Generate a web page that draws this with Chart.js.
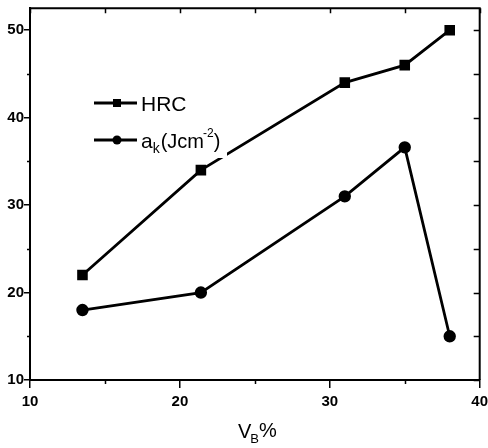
<!DOCTYPE html>
<html>
<head>
<meta charset="utf-8">
<script src="https://cdn.jsdelivr.net/npm/chart.js@4.4.1/dist/chart.umd.min.js"></script>
<style>
  html, body { margin: 0; padding: 0; background: #fff; }
  canvas { display: block; }
</style>
</head>
<body>
<canvas id="chart" width="488" height="448"></canvas>
<script>
// V_B% on x, HRC and impact toughness a_k on y
const vb = [13.5, 21.4, 31, 35, 38];
const hrc = [22, 34, 44, 46, 50];
const ak = [18, 20, 31, 36.6, 15];
const xTicks = [10, 20, 30, 40];
const yTicks = [10, 20, 30, 40, 50];
const xMinor = [15, 25, 35];
const yMinor = [15, 25, 35, 45];

const FONT = '"Liberation Sans", Arial, sans-serif';
const TICKFONT = '"Liberation Sans Narrow", "Liberation Sans", Arial, sans-serif';

const toPts = ys => ys.map((y, i) => ({x: vb[i], y}));

// extra tick marks (minor, top, right) like the original plot frame
const frameTicks = {
  id: 'frameTicks',
  afterDraw(chart) {
    const {ctx, chartArea: a, scales: {x, y}} = chart;
    ctx.save();
    ctx.strokeStyle = '#000';
    ctx.lineWidth = 1.5;
    ctx.beginPath();
    xTicks.concat(xMinor).forEach(v => {
      const px = Math.round(x.getPixelForValue(v)) + 0.5;
      ctx.moveTo(px, a.top); ctx.lineTo(px, a.top + 5);
    });
    xMinor.forEach(v => {
      const px = Math.round(x.getPixelForValue(v)) + 0.5;
      ctx.moveTo(px, a.bottom); ctx.lineTo(px, a.bottom + 4);
    });
    yTicks.concat(yMinor).forEach(v => {
      const py = Math.round(y.getPixelForValue(v)) + 0.5;
      ctx.moveTo(a.right, py); ctx.lineTo(a.right - 6, py);
    });
    yMinor.forEach(v => {
      const py = Math.round(y.getPixelForValue(v)) + 0.5;
      ctx.moveTo(a.left, py); ctx.lineTo(a.left - 3, py);
    });
    ctx.stroke();
    // frame top/right
    ctx.lineWidth = 2;
    ctx.beginPath();
    ctx.moveTo(a.left, a.top); ctx.lineTo(a.right, a.top); ctx.lineTo(a.right, a.bottom);
    ctx.stroke();

    // x title V_B%
    ctx.fillStyle = '#000';
    ctx.textBaseline = 'alphabetic';
    ctx.font = '20px ' + FONT;
    let tx = 238, ty = 438;
    ctx.fillText('V', tx, ty);
    tx += ctx.measureText('V').width;
    ctx.font = '13px ' + FONT;
    ctx.fillText('B', tx - 1, ty + 5);
    tx += ctx.measureText('B').width - 1;
    ctx.font = '20px ' + FONT;
    ctx.fillText('%', tx, ty - 1);
    ctx.restore();
  }
};

// legend in a white box placed inside the plot
const boxLegend = {
  id: 'boxLegend',
  afterDatasetsDraw(chart) {
    const {ctx} = chart;
    ctx.save();
    ctx.fillStyle = '#fff';
    ctx.fillRect(88, 84, 139, 74);
    ctx.strokeStyle = '#000';
    ctx.fillStyle = '#000';
    ctx.lineWidth = 2.8;
    [103, 140].forEach((ly, i) => {
      ctx.beginPath();
      ctx.moveTo(94, ly); ctx.lineTo(137, ly);
      ctx.stroke();
      ctx.beginPath();
      if (i === 0) ctx.rect(113, ly - 4, 8, 8);
      else ctx.arc(117, ly, 4.5, 0, Math.PI * 2);
      ctx.fill();
    });
    ctx.textBaseline = 'alphabetic';
    ctx.font = '21px ' + FONT;
    ctx.fillText('HRC', 141, 111);
    let tx = 141, ty = 148;
    ctx.fillText('a', tx, ty);
    tx += ctx.measureText('a').width;
    ctx.font = '14px ' + FONT;
    ctx.fillText('k', tx, ty + 5);
    tx += ctx.measureText('k').width + 1;
    ctx.font = '20px ' + FONT;
    ctx.fillText('(Jcm', tx, ty);
    tx += ctx.measureText('(Jcm').width;
    ctx.font = '12px ' + FONT;
    ctx.fillText('-2', tx - 1, ty - 11);
    tx += ctx.measureText('-2').width - 1;
    ctx.font = '20px ' + FONT;
    ctx.fillText(')', tx, ty);
    ctx.restore();
  }
};

new Chart(document.getElementById('chart'), {
  type: 'line',
  data: {
    datasets: [
      { label: 'HRC', data: toPts(hrc), borderColor: '#000', backgroundColor: '#000',
        borderWidth: 2.8, pointStyle: 'rect', pointRadius: 5.5, tension: 0 },
      { label: 'ak', data: toPts(ak), borderColor: '#000', backgroundColor: '#000',
        borderWidth: 2.8, pointStyle: 'circle', pointRadius: 4.8, tension: 0 }
    ]
  },
  options: {
    responsive: false,
    animation: false,
    layout: { padding: { top: 8, right: 8, left: 0, bottom: 0 } },
    plugins: { legend: { display: false }, tooltip: { enabled: false } },
    scales: {
      x: {
        type: 'linear', min: 10, max: 40,
        afterBuildTicks: s => { s.ticks = xTicks.map(v => ({value: v})); },
        afterFit: s => { s.height = 68; s.paddingLeft = 0; s.paddingRight = 0; },
        border: { display: true, color: '#000', width: 2 },
        grid: { drawOnChartArea: false, drawTicks: true, tickLength: 8, color: '#000', lineWidth: 1.5 },
        ticks: { color: '#000', font: { family: TICKFONT, size: 15, weight: 'bold' }, padding: 5, maxRotation: 0 }
      },
      y: {
        type: 'linear', min: 10, max: 52.5,
        afterBuildTicks: s => { s.ticks = yTicks.map(v => ({value: v})); },
        afterFit: s => { s.width = 30; s.paddingTop = 0; s.paddingBottom = 0; },
        border: { display: true, color: '#000', width: 2 },
        grid: { drawOnChartArea: false, drawTicks: true, tickLength: 6, color: '#000', lineWidth: 1.5 },
        ticks: { color: '#000', font: { family: TICKFONT, size: 15, weight: 'bold' }, padding: 0 }
      }
    }
  },
  plugins: [boxLegend, frameTicks]
});
</script>
</body>
</html>
